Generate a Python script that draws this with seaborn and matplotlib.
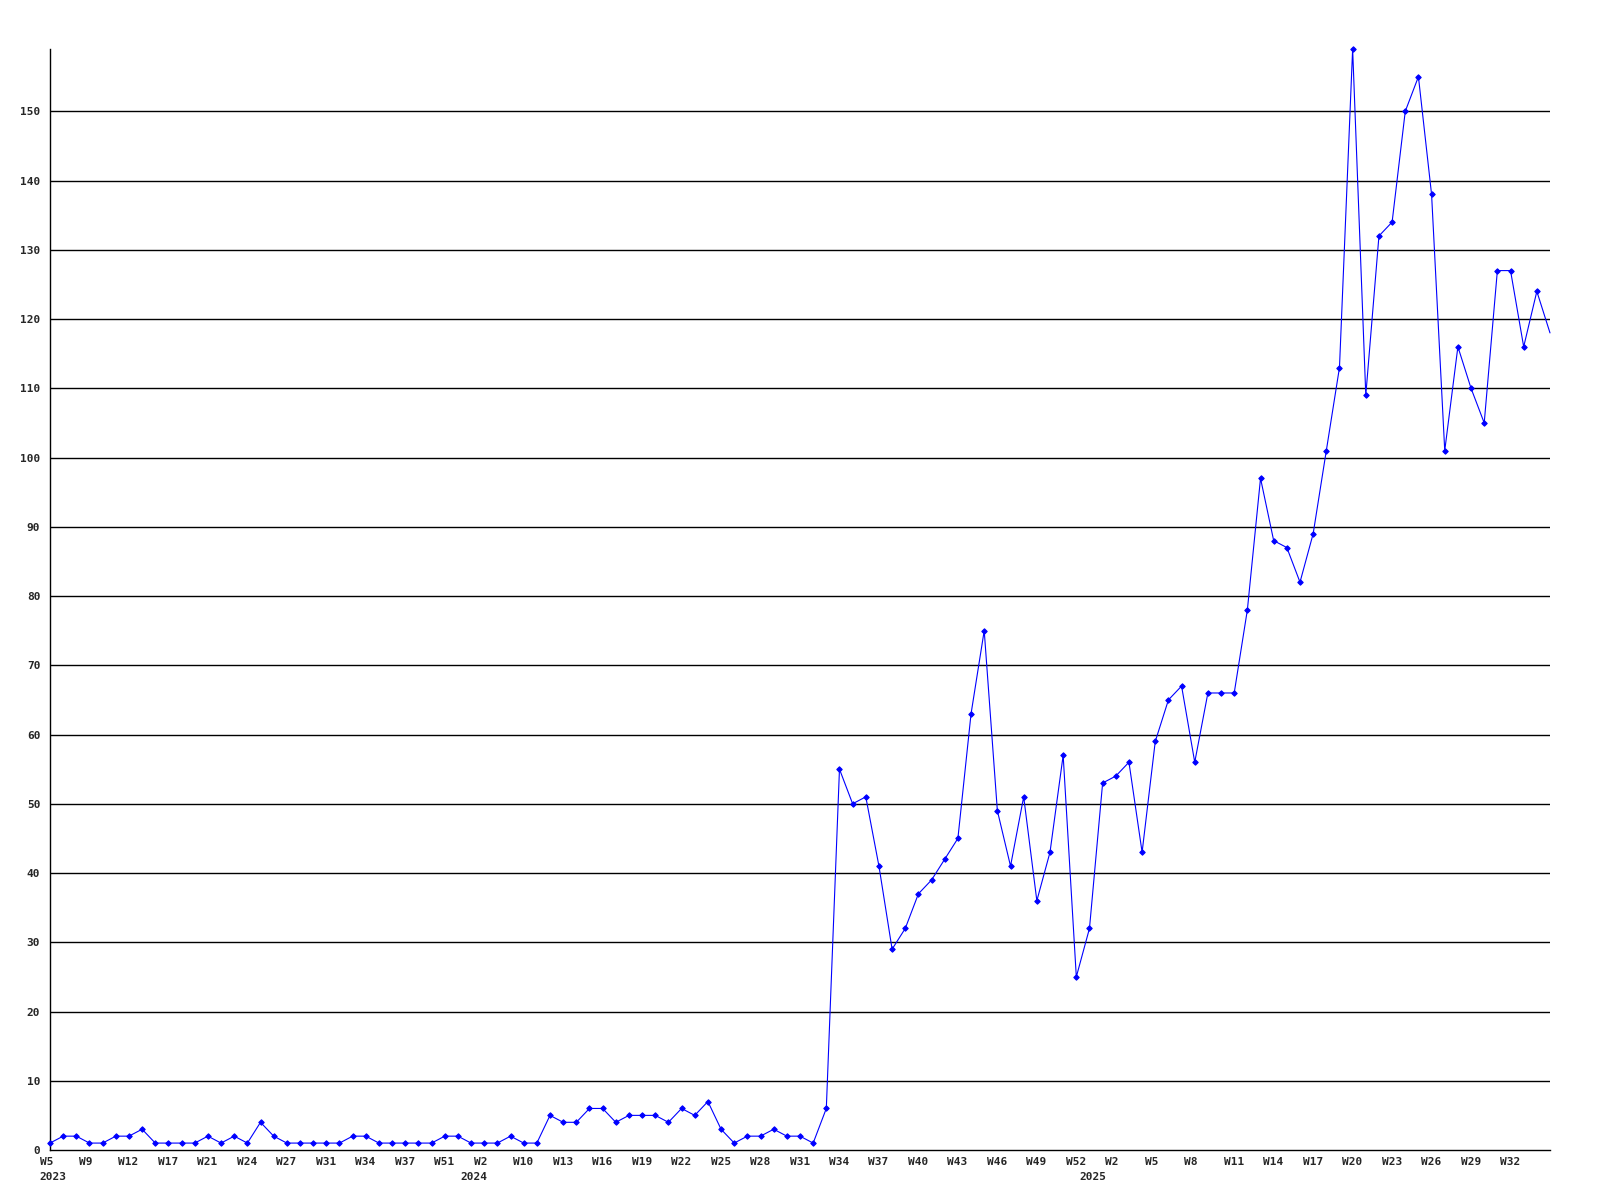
import numpy as np
import pandas as pd
import matplotlib
matplotlib.use("Agg")
import matplotlib.pyplot as plt
import matplotlib.transforms as mtrans
import seaborn as sns

# weekly counts, one value per week with data
counts = [1, 2, 2, 1, 1, 2, 2, 3, 1, 1, 1, 1, 2, 1, 2, 1, 4, 2, 1, 1,
          1, 1, 1, 2, 2, 1, 1, 1, 1,
          1, 2, 2, 1, 1, 1, 2, 1, 1, 5, 4, 4, 6, 6, 4, 5, 5, 5, 4, 6,
          5, 7, 3, 1, 2, 2, 3, 2, 2, 1,
          6,
          55, 50, 51, 41, 29, 32, 37, 39, 42, 45, 63, 75, 49, 41, 51, 36,
          43, 57, 25, 32, 53, 54, 56, 43, 59, 65, 67, 56, 66, 66, 66,
          78, 97, 88, 87, 82, 89, 101, 113, 159, 109, 132, 134, 150, 155,
          138, 101, 116, 110, 105, 127, 127, 116, 124, 118]

# labels shown every third point
week_labels = ["W5", "W9", "W12", "W17", "W21", "W24", "W27", "W31", "W34",
               "W37", "W51", "W2", "W10", "W13", "W16", "W19", "W22", "W25",
               "W28", "W31", "W34", "W37", "W40", "W43", "W46", "W49", "W52",
               "W2", "W5", "W8", "W11", "W14", "W17", "W20", "W23", "W26",
               "W29", "W32"]
# first point of each year
year_pos = [0, 32, 79]
year_labels = ["2023", "2024", "2025"]

df = pd.DataFrame({"idx": np.arange(len(counts)), "count": counts})

sns.set_style("white")
plt.rcParams["font.family"] = ["DejaVu Sans Mono"]

fig = plt.figure(figsize=(16, 12), dpi=100)
ax = fig.add_axes([50 / 1600, 50 / 1200, 1500 / 1600, 1101 / 1200])

for v in range(10, 160, 10):
    ax.axhline(v, color="black", lw=1.0, zorder=1)

# last point sits on the plot edge, drawn without a marker
sns.lineplot(data=df, x="idx", y="count", ax=ax, color="#0000ff", lw=0.8,
             marker="D", markersize=2.8, markeredgecolor="#0000ff",
             markevery=list(range(len(counts) - 1)),
             zorder=3, clip_on=False)

ax.set_xlim(0, len(counts) - 1)
ax.set_ylim(0, max(counts))

ticks = [i * 3 for i in range(len(week_labels))]
ax.set_xticks(ticks)
ax.set_xticklabels(week_labels)

ax.set_yticks(range(0, 160, 10))
ax.set_yticklabels([str(v) for v in range(0, 160, 10)])
ax.tick_params(axis="both", length=0, labelsize=8)
ax.tick_params(axis="y", pad=7)
ax.tick_params(axis="x", pad=5)
for t in ax.get_xticklabels() + ax.get_yticklabels():
    t.set_fontweight("bold")

shift = mtrans.ScaledTranslation(-10.5 / 100, 0, fig.dpi_scale_trans)
for t in ax.get_xticklabels():
    t.set_horizontalalignment("left")
    t.set_transform(t.get_transform() + shift)

# year labels under the week labels
ytrans = mtrans.blended_transform_factory(ax.transData, fig.transFigure)
for p, yl in zip(year_pos, year_labels):
    ax.text(p, 1 - 1172 / 1200, yl, transform=ytrans + shift, ha="left",
            va="top", fontsize=8, fontweight="bold")

ax.set_xlabel("")
ax.set_ylabel("")
for s in ["top", "right"]:
    ax.spines[s].set_visible(False)
ax.spines["left"].set_color("black")
ax.spines["bottom"].set_color("black")
ax.spines["left"].set_linewidth(1.0)
ax.spines["bottom"].set_linewidth(1.0)

fig.savefig("out.png", dpi=100, facecolor="white")
